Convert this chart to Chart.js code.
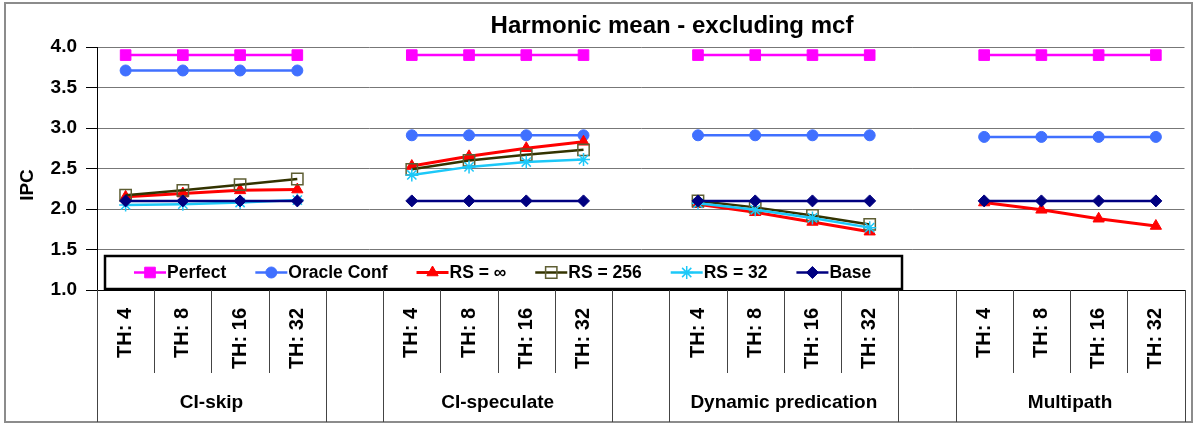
<!DOCTYPE html>
<html><head><meta charset="utf-8">
<script src="https://cdn.jsdelivr.net/npm/chart.js@4.4.0/dist/chart.umd.min.js"></script>
<style>html,body{margin:0;padding:0;background:#fff;}#wrap{width:1194px;height:425px;position:relative;}</style>
</head><body><div id="wrap"><canvas id="c" width="1194" height="425"></canvas></div>
<script>
const categories = ['TH: 4','TH: 8','TH: 16','TH: 32','',
                    'TH: 4','TH: 8','TH: 16','TH: 32','',
                    'TH: 4','TH: 8','TH: 16','TH: 32','',
                    'TH: 4','TH: 8','TH: 16','TH: 32'];
const groupLabels = ['CI-skip','CI-speculate','Dynamic predication','Multipath'];
const groupFirst = [0, 5, 10, 15];
const groupLast  = [3, 8, 13, 18];
const yTickValues = [1.0, 1.5, 2.0, 2.5, 3.0, 3.5, 4.0];
const titleText = 'Harmonic mean - excluding mcf';
const yTitle = 'IPC';

const perfect    = [3.90,3.90,3.90,3.90,null, 3.90,3.90,3.90,3.90,null, 3.90,3.90,3.90,3.90,null, 3.90,3.90,3.90,3.90];
const oracleConf = [3.71,3.71,3.71,3.71,null, 2.91,2.91,2.91,2.91,null, 2.91,2.91,2.91,2.91,null, 2.89,2.89,2.89,2.89];
const rsInf      = [2.15,2.19,2.23,2.24,null, 2.53,2.65,2.75,2.83,null, 2.06,1.96,1.84,1.72,null, 2.08,1.99,1.88,1.79];
const rs256      = [2.17,2.23,2.30,2.37,null, 2.49,2.60,2.67,2.73,null, 2.10,2.02,1.92,1.81,null, null,null,null,null];
const rs32       = [2.05,2.06,2.08,2.11,null, 2.42,2.52,2.58,2.61,null, 2.07,1.99,1.89,1.77,null, null,null,null,null];
const base       = [2.10,2.10,2.10,2.10,null, 2.10,2.10,2.10,2.10,null, 2.10,2.10,2.10,2.10,null, 2.10,2.10,2.10,2.10];

const FONT = '"Liberation Sans", Arial, sans-serif';

function ds(label, data, color, style, radius, opts) {
  return Object.assign({
    label, data,
    borderColor: color, backgroundColor: color,
    pointBackgroundColor: color, pointBorderColor: color,
    pointStyle: style, pointRadius: radius, pointHoverRadius: radius,
    pointBorderWidth: 1, borderWidth: 2.5, spanGaps: false, tension: 0, fill: false
  }, opts || {});
}

const datasets = [
  ds('Perfect', perfect, '#FF00FF', 'rect', 7.5, {order: 5}),
  ds('Oracle Conf', oracleConf, '#4070FF', 'circle', 5.5, {order: 4}),
  ds('RS = \u221E', rsInf, '#FF0000', 'triangle', 6.5, {order: 3, borderWidth: 3}),
  ds('RS = 256', rs256, '#333300', 'rect', 8, {order: 2, pointBackgroundColor: 'rgba(0,0,0,0)', pointBorderColor: '#5E5E33', pointBorderWidth: 1.5}),
  ds('RS = 32', rs32, '#1CC8F8', 'star', 6.5, {order: 1, pointBorderWidth: 1.5}),
  ds('Base', base, '#000080', 'rectRot', 6, {order: 0})
];

function drawMarker(ctx, d, x, y) {
  const h = Chart.helpers;
  ctx.save();
  ctx.fillStyle = d.pointBackgroundColor;
  ctx.strokeStyle = d.pointBorderColor;
  ctx.lineWidth = d.pointBorderWidth;
  if (h && h.drawPoint) {
    h.drawPoint(ctx, {pointStyle: d.pointStyle, radius: d.pointRadius, borderWidth: d.pointBorderWidth, rotation: 0}, x, y);
  }
  ctx.restore();
}

const decor = {
  id: 'decor',
  afterDraw(chart) {
    const ctx = chart.ctx;
    const xs = chart.scales.x;
    const area = chart.chartArea;
    const n = categories.length;
    const step = (area.right - area.left) / n;
    ctx.save();
    // outer border
    ctx.strokeStyle = '#8c8c8c';
    ctx.lineWidth = 2;
    ctx.strokeRect(5, 3, 1187, 419);
    // title
    ctx.fillStyle = '#000';
    ctx.font = 'bold 24px ' + FONT;
    ctx.textAlign = 'center';
    ctx.textBaseline = 'middle';
    ctx.fillText(titleText, 672, 26);
    // y axis title
    ctx.save();
    ctx.translate(28, 185);
    ctx.rotate(-Math.PI / 2);
    ctx.font = 'bold 19px ' + FONT;
    ctx.fillText(yTitle, 0, 0);
    ctx.restore();
    // category dividers
    const longIdx = new Set();
    groupFirst.forEach(i => longIdx.add(i));
    groupLast.forEach(i => longIdx.add(i + 1));
    ctx.strokeStyle = '#444';
    ctx.lineWidth = 1;
    for (let i = 0; i <= n; i++) {
      const px = (i < n ? xs.getPixelForValue(i) - step / 2 : xs.getPixelForValue(n - 1) + step / 2);
      const xx = Math.round(px) + 0.5;
      ctx.beginPath();
      ctx.moveTo(xx, area.bottom);
      ctx.lineTo(xx, longIdx.has(i) ? 422 : area.bottom + 83);
      ctx.stroke();
    }
    // group labels
    ctx.fillStyle = '#000';
    ctx.font = 'bold 19px ' + FONT;
    ctx.textAlign = 'center';
    ctx.textBaseline = 'middle';
    groupLabels.forEach((g, k) => {
      const cx = (xs.getPixelForValue(groupFirst[k]) + xs.getPixelForValue(groupLast[k])) / 2;
      ctx.fillText(g, cx, 403);
    });
    // legend
    const bx = 105, by = 256, bw = 797, bh = 33;
    ctx.fillStyle = '#fff';
    ctx.fillRect(bx, by, bw, bh);
    ctx.strokeStyle = '#000';
    ctx.lineWidth = 2.5;
    ctx.strokeRect(bx, by, bw, bh);
    ctx.font = 'bold 17.5px ' + FONT;
    ctx.textAlign = 'left';
    ctx.textBaseline = 'middle';
    let x = 134;
    const cy = by + bh / 2;
    chart.data.datasets.forEach(d => {
      ctx.strokeStyle = d.borderColor;
      ctx.lineWidth = d.borderWidth;
      ctx.beginPath();
      ctx.moveTo(x, cy);
      ctx.lineTo(x + 32, cy);
      ctx.stroke();
      drawMarker(ctx, d, x + 16, cy);
      ctx.fillStyle = '#000';
      ctx.fillText(d.label, x + 33, cy + 1);
      x += 33 + ctx.measureText(d.label).width + 29;
    });
    ctx.restore();
  }
};

new Chart(document.getElementById('c'), {
  type: 'line',
  data: { labels: categories, datasets },
  options: {
    responsive: false,
    animation: false,
    layout: { padding: { left: 0, right: 7, top: 47, bottom: 0 } },
    plugins: { legend: { display: false }, title: { display: false }, tooltip: { enabled: false } },
    scales: {
      x: {
        type: 'category',
        offset: true,
        grid: { display: false },
        border: { display: true, color: '#000', width: 1 },
        ticks: {
          autoSkip: false, maxRotation: 90, minRotation: 90, padding: 10,
          color: '#000', font: { family: FONT, size: 20, weight: 'bold' }
        },
        afterFit: s => { s.height = 135; }
      },
      y: {
        min: 1, max: 4,
        afterBuildTicks: s => { s.ticks = yTickValues.map(v => ({ value: v })); },
        grid: { color: '#777', lineWidth: 1, tickLength: 11, tickColor: '#000', drawTicks: true },
        border: { display: true, color: '#000', width: 1 },
        ticks: {
          padding: 9, color: '#000',
          font: { family: FONT, size: 19, weight: 'bold' },
          callback: v => Number(v).toFixed(1)
        },
        afterFit: s => { s.width = 97; }
      }
    }
  },
  plugins: [decor]
});
</script>
</body></html>
